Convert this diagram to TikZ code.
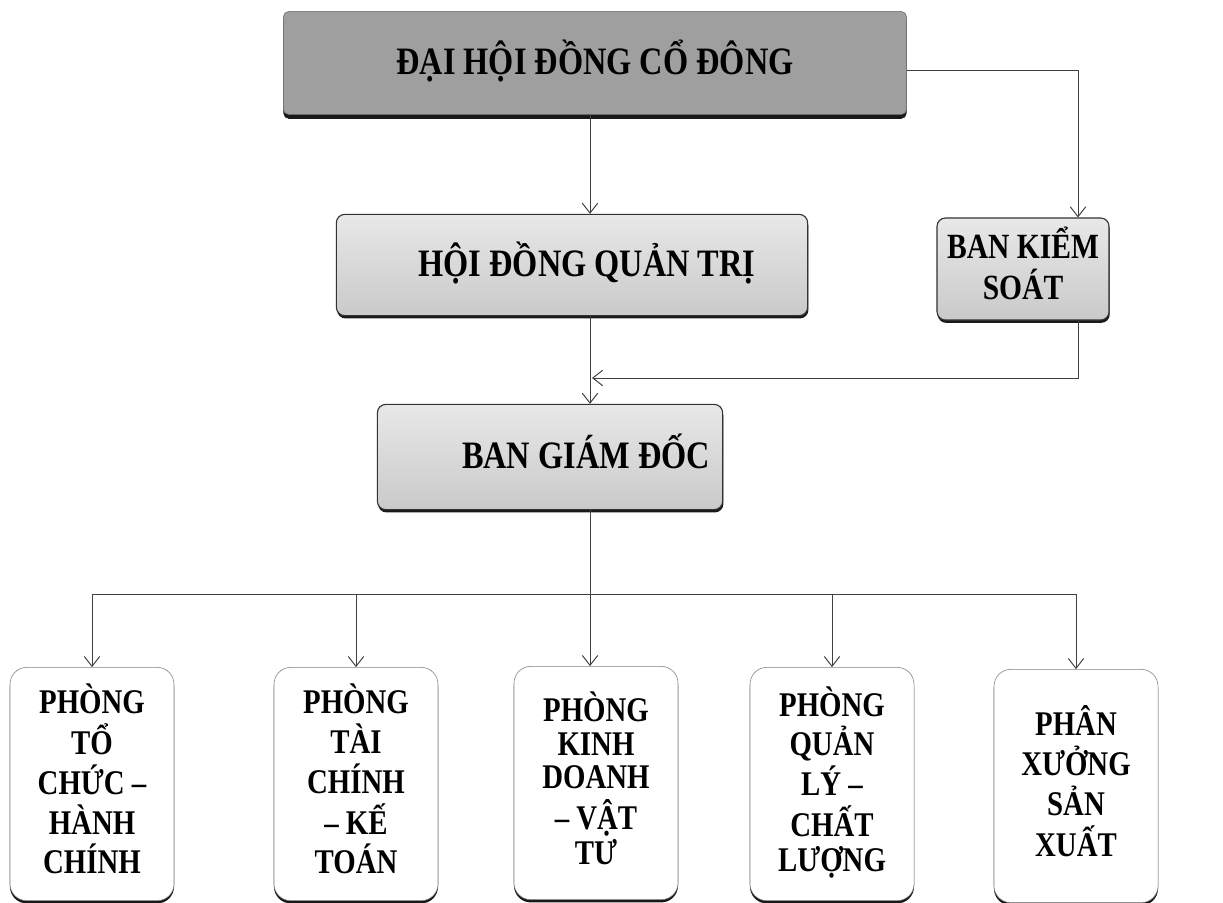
\documentclass[tikz,border=0pt]{standalone}
\usepackage{fontspec}
\setmainfont{Liberation Serif}
\usetikzlibrary{arrows.meta,shadows}
\newcommand{\talltext}[1]{\scalebox{1}[1.2]{\begin{tabular}{@{}c@{}}#1\end{tabular}}}

\begin{document}
\begin{tikzpicture}[x=0.025cm,y=-0.025cm,
  >={Straight Barb[length=7pt,width=11pt]},
  arr/.style={->,draw=black!75,line width=0.7pt},
  topbox/.style={draw=black!60,fill=gray!75,rounded corners=4pt,
    drop shadow={shadow xshift=0pt,shadow yshift=-3pt,fill=black,opacity=0.9},
    font=\bfseries\fontsize{23}{23}\selectfont},
  midbox/.style={draw=black!80,line width=0.8pt,top color=gray!18,bottom color=gray!42,
    rounded corners=6pt,
    drop shadow={shadow xshift=0.5pt,shadow yshift=-2pt,fill=black,opacity=0.9},
    font=\bfseries\fontsize{23}{21.5}\selectfont},
  deptbox/.style={draw=black!50,fill=white,rounded corners=12pt,
    minimum width=4.1cm,minimum height=5.83cm,
    drop shadow={shadow xshift=0pt,shadow yshift=-2pt,fill=black,opacity=0.9},
    font=\bfseries\fontsize{20.5}{20}\selectfont}]
\useasboundingbox (0,0) rectangle (1223,902);

% top
\node[topbox,minimum width=15.58cm,minimum height=2.58cm] (dhdcd) at (595,63) {\talltext{ĐẠI HỘI ĐỒNG CỔ ĐÔNG}};

% second row
\node[midbox,minimum width=11.78cm,minimum height=2.53cm] (hdqt) at (572,265) {\hspace*{0.75cm}\talltext{HỘI ĐỒNG QUẢN TRỊ}};
\node[midbox,minimum width=4.3cm,minimum height=2.55cm,font=\bfseries\fontsize{21}{21.5}\selectfont] (bks) at (1023,269) {\talltext{BAN KIỂM\\SOÁT}};

% third row
\node[midbox,minimum width=8.63cm,minimum height=2.63cm] (bgd) at (550,457) {\hspace*{1.8cm}\talltext{BAN GIÁM ĐỐC}};

% departments
\node[deptbox] (d1) at (92,784) {\talltext{PHÒNG\\TỔ\\CHỨC –\\HÀNH\\CHÍNH}};
\node[deptbox] (d2) at (356,784) {\talltext{PHÒNG\\TÀI\\CHÍNH\\– KẾ\\TOÁN}};
\node[deptbox] (d3) at (596,783) {\talltext{PHÒNG\\KINH\\DOANH\\– VẬT\\TƯ}};
\node[deptbox] (d4) at (832,784) {\talltext{PHÒNG\\QUẢN\\LÝ –\\CHẤT\\LƯỢNG}};
\node[deptbox] (d5) at (1076,786) {\raisebox{12pt}{\talltext{PHÂN\\XƯỞNG\\SẢN\\XUẤT}}};

% connectors
\coordinate (spine) at (590,0);
\coordinate (side) at (1078,0);
\coordinate (merge) at (592,378);
\coordinate (bus) at (0,594);
\draw[arr] (spine |- dhdcd.south) -- (spine |- hdqt.north);
\draw[arr] ([yshift=-5pt]dhdcd.east) -| (side |- bks.north);
\draw[arr] (spine |- hdqt.south) -- (spine |- bgd.north);
\draw[arr] (side |- bks.south) |- (merge);
\draw[arr] (spine |- bgd.south) -- (spine |- d3.north);
\draw[black!75,line width=0.7pt] (d1.north |- bus) -- (d5.north |- bus);
\foreach \d in {d1,d2,d4,d5}
  \draw[arr] (\d.north |- bus) -- (\d.north);
\end{tikzpicture}
\end{document}
